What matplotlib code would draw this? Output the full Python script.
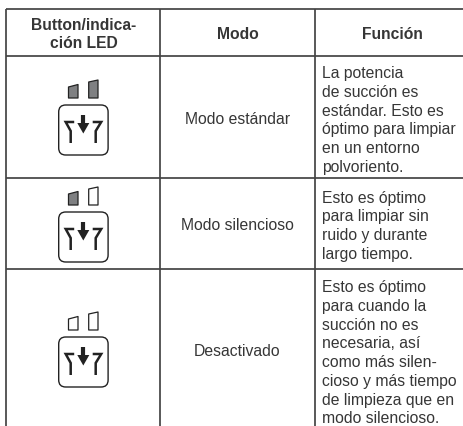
import matplotlib
matplotlib.use("Agg")
import matplotlib.pyplot as plt
from matplotlib.patches import FancyBboxPatch, Polygon

plt.rcParams['font.family'] = ['Liberation Sans', 'DejaVu Sans']

headers = ["Button/indica-\nción LED", "Modo", "Función"]
modes = ["Modo estándar", "Modo silencioso", "Desactivado"]
functions = [
    ["La potencia", "de succión es", "estándar. Esto es", "óptimo para limpiar", "en un entorno", "polvoriento."],
    ["Esto es óptimo", "para limpiar sin", "ruido y durante", "largo tiempo."],
    ["Esto es óptimo", "para cuando la", "succión no es", "necesaria, así", "como más silen-", "cioso y más tiempo", "de limpieza que en", "modo silencioso."],
]
led_on = [[True, True], [True, False], [False, False]]

col_x = [6, 160, 315, 464]
row_y = [9, 56, 178, 269, 426]
icon_top = [105, 212, 337]
mode_y = [120, 225, 351]
func_first_y = [73.5, 198, 287.5]
line_gap = 18.75

W, H = 464, 426
fig = plt.figure(figsize=(W / 100, H / 100), dpi=100)
ax = fig.add_axes([0, 0, 1, 1])
ax.set_xlim(0, W)
ax.set_ylim(H, 0)
ax.axis('off')

GRID = '#444444'
TXT = '#363636'
DARK = '#222222'
lw = 1.25
for x in col_x[:3]:
    ax.plot([x, x], [row_y[0], H], color=GRID, lw=lw, solid_capstyle='butt')
for y in row_y[:4]:
    ax.plot([col_x[0], W], [y, y], color=GRID, lw=lw, solid_capstyle='butt')

fs = 11.35
ax.text((col_x[0] + col_x[1]) / 2 + 0.5, 34.5, headers[0], ha='center', va='center', fontsize=fs - 0.1,
        fontweight='bold', color=TXT, linespacing=1.2)
header_x = [238, 392]
for i, hx in zip((1, 2), header_x):
    ax.text(hx, 34.5, headers[i], ha='center', va='center',
            fontsize=fs - 0.1, fontweight='bold', color=TXT)

for m, y in zip(modes, mode_y):
    ax.text((col_x[1] + col_x[2]) / 2, y, m, ha='center', va='center', fontsize=fs, color=TXT)

for lines, y0 in zip(functions, func_first_y):
    for j, line in enumerate(lines):
        ax.text(322, y0 + j * line_gap, line, ha='left', va='center', fontsize=fs, color=TXT)


def draw_icon(top, on):
    ax.add_patch(FancyBboxPatch((58.7 + 4, top + 4), 49.4 - 8, 50 - 8, boxstyle="round,pad=4,rounding_size=7",
                                fc='white', ec=DARK, lw=1.0))
    # LEDs
    shapes = [
        [(68.5, top - 7), (68.5, top - 18), (78, top - 20.5), (78, top - 7)],
        [(88.7, top - 7), (88.7, top - 23), (98, top - 25), (98, top - 7)],
    ]
    for pts, state in zip(shapes, on):
        ax.add_patch(Polygon(pts, closed=True, joinstyle='round', fc='#7f8082' if state else 'white', ec=DARK, lw=0.9))
    # funnels
    ax.plot([74.2, 65.7, 70.7, 70.7], [top + 17, top + 17, top + 26, top + 38], color=DARK, lw=1.8,
            solid_capstyle='butt', solid_joinstyle='miter')
    ax.plot([92.7, 101.2, 95.7, 95.7], [top + 17, top + 17, top + 26, top + 38], color=DARK, lw=1.8,
            solid_capstyle='butt', solid_joinstyle='miter')
    # arrow
    ax.plot([83.3, 83.3], [top + 9.5, top + 19], color=DARK, lw=3.0, solid_capstyle='butt')
    ax.add_patch(Polygon([(77.3, top + 18), (89.3, top + 18), (83.3, top + 28.5)], closed=True, fc=DARK, ec='none'))


for top, on in zip(icon_top, led_on):
    draw_icon(top, on)

fig.savefig("out.png", dpi=100)
